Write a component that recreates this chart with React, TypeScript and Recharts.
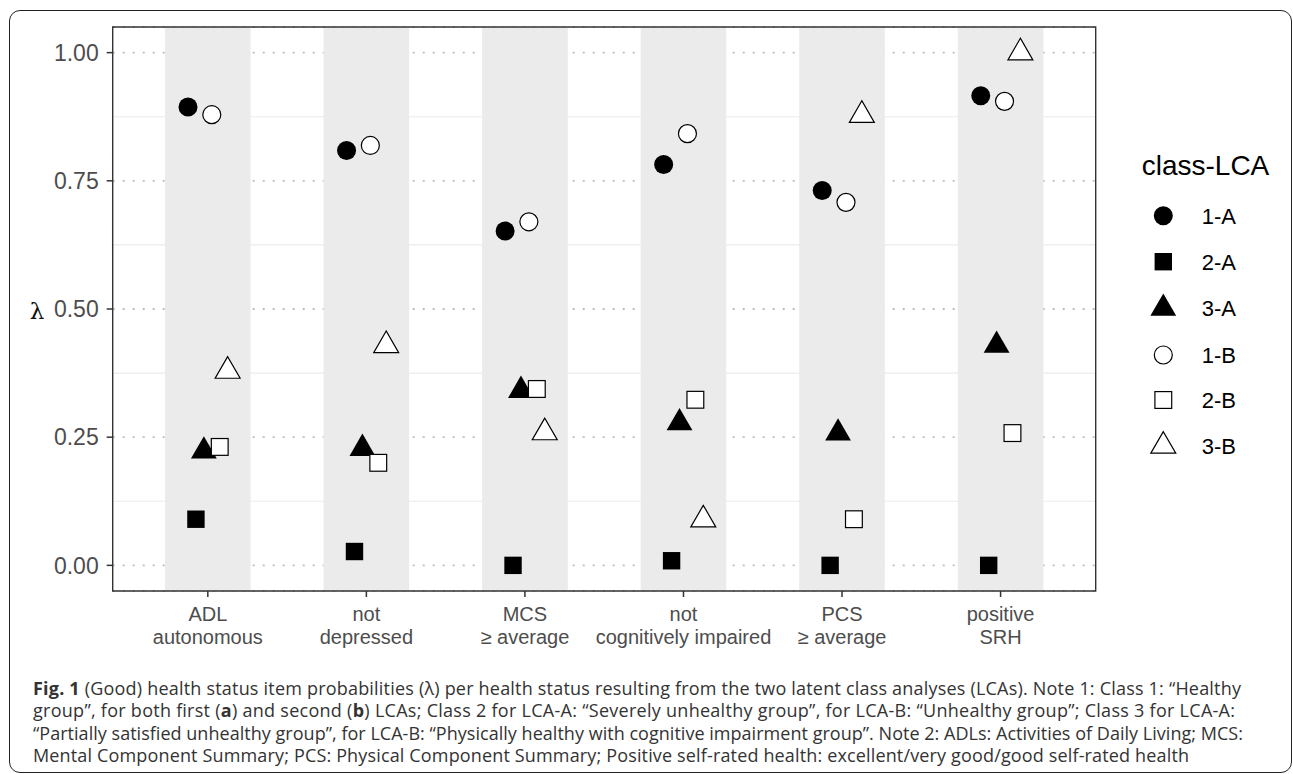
import React from "react";
import {
  ScatterChart,
  Scatter,
  XAxis,
  YAxis,
  CartesianGrid,
  ReferenceArea,
} from "recharts";

// health status items (x axis, two-line labels)
const categories = [
  "ADL\nautonomous",
  "not\ndepressed",
  "MCS\n≥ average",
  "not\ncognitively impaired",
  "PCS\n≥ average",
  "positive\nSRH",
];

// item probabilities per class
const class1A = [0.894, 0.809, 0.652, 0.782, 0.731, 0.916];
const class2A = [0.09, 0.027, 0.0, 0.009, 0.0, 0.0];
const class3A = [0.223, 0.228, 0.341, 0.278, 0.258, 0.429];
const class1B = [0.879, 0.819, 0.67, 0.842, 0.708, 0.905];
const class2B = [0.231, 0.2, 0.344, 0.323, 0.09, 0.258];
const class3B = [0.379, 0.429, 0.259, 0.089, 0.878, 1.0];

const yTicks = [0, 0.25, 0.5, 0.75, 1];
const yMinor = [0.125, 0.375, 0.625, 0.875];

const series = [
  { name: "1-A", values: class1A, kind: "circle", filled: true },
  { name: "2-A", values: class2A, kind: "square", filled: true },
  { name: "3-A", values: class3A, kind: "triangle", filled: true },
  { name: "1-B", values: class1B, kind: "circle", filled: false },
  { name: "2-B", values: class2B, kind: "square", filled: false },
  { name: "3-B", values: class3B, kind: "triangle", filled: false },
];

const DODGE = 0.05;
const BAND = 0.27;
const SANS = "'Liberation Sans', Arial, Helvetica, sans-serif";

function Marker({ cx, cy, kind, filled }: any) {
  const fill = filled ? "#000" : "#fff";
  const stroke = filled ? "none" : "#000";
  const sw = filled ? 0 : 1.2;
  if (kind === "circle") {
    return <circle cx={cx} cy={cy} r={filled ? 9.5 : 9} fill={fill} stroke={stroke} strokeWidth={sw} />;
  }
  if (kind === "square") {
    const h = filled ? 8.7 : 8.4;
    return <rect x={cx - h} y={cy - h} width={h * 2} height={h * 2} fill={fill} stroke={stroke} strokeWidth={sw} />;
  }
  const a = filled ? 7.45 : 7.2;
  const pts = `${cx},${cy - 2 * a} ${cx - Math.sqrt(3) * a},${cy + a} ${cx + Math.sqrt(3) * a},${cy + a}`;
  return <polygon points={pts} fill={fill} stroke={stroke} strokeWidth={sw} strokeLinejoin="miter" />;
}

function XTick({ x, y, payload }: any) {
  const lines = categories[Math.round(payload.value)].split("\n");
  return (
    <text x={x} y={y} textAnchor="middle" fill="#4d4d4d" fontSize={20} fontFamily={SANS}>
      {lines.map((l, j) => (
        <tspan key={j} x={x} y={y + 21.6 + j * 23.3}>
          {l}
        </tspan>
      ))}
    </text>
  );
}

const captionLines = [
  [
    { t: "Fig. 1", b: true },
    { t: " (Good) health status item probabilities (λ) per health status resulting from the two latent class analyses (LCAs). Note 1: Class 1: “Healthy" },
  ],
  [
    { t: "group”, for both first (" },
    { t: "a", b: true },
    { t: ") and second (" },
    { t: "b", b: true },
    { t: ") LCAs; Class 2 for LCA-A: “Severely unhealthy group”, for LCA-B: “Unhealthy group”; Class 3 for LCA-A:" },
  ],
  [{ t: "“Partially satisfied unhealthy group”, for LCA-B: “Physically healthy with cognitive impairment group”. Note 2: ADLs: Activities of Daily Living; MCS:" }],
  [{ t: "Mental Component Summary; PCS: Physical Component Summary; Positive self-rated health: excellent/very good/good self-rated health" }],
];
const captionWidths = [1208, 1202, 1210, 1156];

export default function App() {
  const legendRows = [215.7, 261.7, 308.3, 355, 400, 446];
  return (
    <div style={{ position: "absolute", left: 0, top: 0, width: 1293, height: 774, background: "#fff" }}>
      <div
        style={{
          position: "absolute",
          left: 9,
          top: 10,
          width: 1283,
          height: 763,
          border: "1.5px solid #222",
          borderRadius: 11,
          boxSizing: "border-box",
        }}
      />
      <div style={{ position: "absolute", left: 0, top: 0 }}>
        <ScatterChart width={1293} height={660} margin={{ top: 27, right: 197.3, left: 0, bottom: 9 }}>
          <CartesianGrid vertical={false} horizontalValues={yMinor} stroke="#ebebeb" strokeWidth={1.2} />
          <CartesianGrid vertical={false} stroke="#bdbdbd" strokeDasharray="2 8" strokeWidth={1.8} />
          <XAxis
            type="number"
            dataKey="x"
            domain={[-0.6, 5.6]}
            ticks={[0, 1, 2, 3, 4, 5]}
            allowDataOverflow
            interval={0}
            axisLine={false}
            tickSize={6}
            tickLine={{ stroke: "#333", strokeWidth: 1.5 }}
            height={60}
            tick={<XTick />}
          />
          <YAxis
            type="number"
            dataKey="y"
            domain={[-0.05, 1.05]}
            ticks={yTicks}
            allowDataOverflow
            interval={0}
            axisLine={false}
            tickSize={6}
            tickMargin={8}
            tickLine={{ stroke: "#333", strokeWidth: 1.5 }}
            width={112.7}
            tick={{ fill: "#4d4d4d", fontSize: 23, fontFamily: SANS }}
            tickFormatter={(v: number) => v.toFixed(2)}
          />
          {categories.map((_, i) => (
            <ReferenceArea
              key={i}
              x1={i - BAND}
              x2={i + BAND}
              y1={-0.05}
              y2={1.05}
              fill="#ebebeb"
              fillOpacity={1}
              stroke="none"
              ifOverflow="visible"
            />
          ))}
          <ReferenceArea
            x1={-0.6}
            x2={5.6}
            y1={-0.05}
            y2={1.05}
            fill="none"
            stroke="#333"
            strokeWidth={1.4}
            ifOverflow="visible"
          />
          {series.map((s, k) => (
            <Scatter
              key={s.name}
              name={s.name}
              data={s.values.map((v, i) => ({ x: i + (k - 2.5) * DODGE, y: v }))}
              isAnimationActive={false}
              shape={(p: any) => <Marker cx={p.cx} cy={p.cy} kind={s.kind} filled={s.filled} />}
            />
          ))}
        </ScatterChart>
      </div>
      <svg
        width={1293}
        height={774}
        style={{ position: "absolute", left: 0, top: 0, pointerEvents: "none" }}
      >
        <text x={37} y={319} textAnchor="middle" fontSize={23} fontFamily="'DejaVu Serif', serif" fill="#111">
          λ
        </text>
        <text x={1141.7} y={175} fontSize={28} fontFamily={SANS} fill="#000">
          class-LCA
        </text>
        {series.map((s, k) => (
          <g key={s.name}>
            <Marker cx={1163.3} cy={legendRows[k]} kind={s.kind} filled={s.filled} />
            <text x={1201.7} y={legendRows[k] + 8} fontSize={22} fontFamily={SANS} fill="#000">
              {s.name}
            </text>
          </g>
        ))}
        {captionLines.map((line, j) => (
          <text
            key={j}
            x={33}
            y={695 + j * 22.3}
            fontSize={18}
            fontFamily="'Open Sans', sans-serif"
            fill="#333"
            textLength={captionWidths[j]}
            lengthAdjust="spacing"
          >
            {line.map((seg: any, m) => (
              <tspan key={m} fontWeight={seg.b ? 700 : 400}>
                {seg.t}
              </tspan>
            ))}
          </text>
        ))}
      </svg>
    </div>
  );
}
